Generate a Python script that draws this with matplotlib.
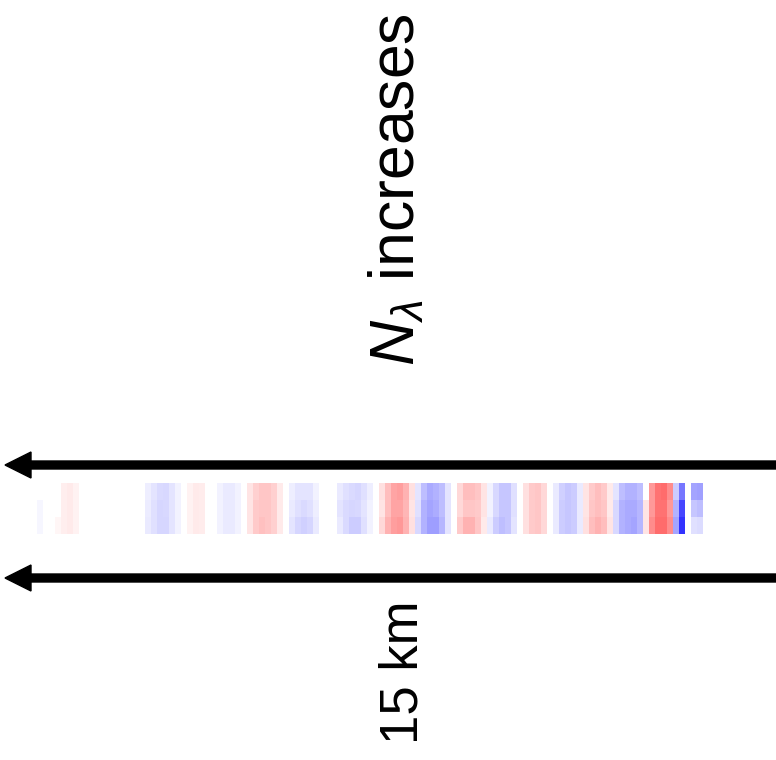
import matplotlib
matplotlib.use('Agg')
import matplotlib.pyplot as plt
import numpy as np

plt.rcParams['font.family'] = ['Liberation Sans', 'DejaVu Sans']
plt.rcParams['mathtext.fontset'] = 'custom'
plt.rcParams['mathtext.rm'] = 'Liberation Sans'
plt.rcParams['mathtext.it'] = 'Liberation Sans:italic'

# anomaly values along the strip (3 rows, 111 columns)
row1 = [0, 0, 0, 0, 0.06, 0.08, 0.05, 0, 0, 0,
        0, 0, 0, 0, 0, 0, 0, 0, -0.06, -0.1,
        -0.14, -0.15, -0.1, -0.05, 0, 0.05, 0.08, 0.07, 0, 0,
        -0.05, -0.08, -0.08, -0.05, 0, 0.1, 0.18, 0.22, 0.22, 0.18,
        0.08, 0, -0.06, -0.1, -0.1, -0.1, -0.05, 0, 0, 0,
        -0.08, -0.12, -0.14, -0.16, -0.12, -0.06, 0, 0.12, 0.25, 0.35,
        0.38, 0.3, 0.12, -0.1, -0.25, -0.33, -0.3, -0.25, -0.1, 0,
        0.15, 0.25, 0.25, 0.22, 0.1, -0.05, -0.15, -0.22, -0.22, -0.12,
        0, 0.12, 0.2, 0.22, 0.15, 0, -0.08, -0.18, -0.22, -0.2,
        -0.08, 0.1, 0.2, 0.25, 0.2, 0.08, -0.1, -0.25, -0.3, -0.3,
        -0.25, 0, 0.4, 0.55, 0.57, 0.45, -0.2, -0.53, 0, -0.35,
        -0.37]
row2 = [-0.03, 0, 0, 0, 0.06, 0.08, 0.05, 0, 0, 0,
        0, 0, 0, 0, 0, 0, 0, 0, -0.07, -0.12,
        -0.16, -0.15, -0.1, -0.05, 0, 0.05, 0.08, 0.07, 0, 0,
        -0.05, -0.08, -0.08, -0.05, 0, 0.1, 0.2, 0.22, 0.22, 0.18,
        0.08, 0, -0.08, -0.12, -0.14, -0.12, -0.06, 0, 0, 0,
        -0.1, -0.14, -0.16, -0.15, -0.1, -0.05, 0, 0.1, 0.25, 0.35,
        0.35, 0.28, 0.1, -0.12, -0.3, -0.35, -0.32, -0.25, -0.1, 0,
        0.15, 0.22, 0.22, 0.2, 0.1, -0.05, -0.15, -0.22, -0.22, -0.12,
        0, 0.12, 0.2, 0.22, 0.15, 0, -0.08, -0.2, -0.22, -0.2,
        -0.08, 0.1, 0.22, 0.25, 0.22, 0.08, -0.15, -0.3, -0.33, -0.33,
        -0.28, 0.1, 0.4, 0.55, 0.55, 0.4, -0.3, -0.72, 0, -0.22,
        -0.25]
row3 = [-0.03, 0, 0, 0.03, 0.06, 0.08, 0.05, 0, 0, 0,
        0, 0, 0, 0, 0, 0, 0, 0, -0.08, -0.12,
        -0.16, -0.16, -0.1, -0.05, 0, 0.05, 0.08, 0.07, 0, 0,
        -0.05, -0.08, -0.08, -0.05, 0, 0.1, 0.2, 0.24, 0.22, 0.18,
        0.08, 0, -0.1, -0.16, -0.18, -0.16, -0.08, 0, 0, 0,
        -0.08, -0.14, -0.2, -0.2, -0.12, -0.05, 0, 0.15, 0.3, 0.38,
        0.4, 0.3, 0.12, -0.15, -0.3, -0.38, -0.38, -0.28, -0.1, 0,
        0.2, 0.3, 0.3, 0.22, 0.08, -0.08, -0.2, -0.25, -0.22, -0.1,
        0, 0.12, 0.2, 0.22, 0.15, 0, -0.08, -0.2, -0.22, -0.2,
        -0.08, 0.12, 0.25, 0.3, 0.25, 0.1, -0.15, -0.3, -0.33, -0.35,
        -0.28, 0.1, 0.45, 0.57, 0.57, 0.45, -0.35, -0.8, 0, -0.12,
        -0.13]
title_text = r'$N_\lambda$ increases'
scale_text = '15 km'

fig = plt.figure(figsize=(7.76, 7.6), dpi=100)
ax = fig.add_axes([0, 0, 1, 1])
ax.set_xlim(0, 776)
ax.set_ylim(760, 0)
ax.axis('off')

# odd number of levels so that zero is pure white
cmap = plt.get_cmap('bwr', 255)
grid = np.array([row1, row2, row3])
ax.imshow(grid, cmap=cmap, vmin=-1, vmax=1, interpolation='nearest',
          extent=(37, 703, 534, 483), aspect='auto')

# the two arrows above and below the strip
for y in (465, 578):
    ax.arrow(776, y, -771, 0, width=8, head_width=26, head_length=26,
             length_includes_head=True, color='black')

ax.text(397, 366, title_text, rotation=90, ha='center', va='bottom', fontsize=45)
ax.text(403, 744, scale_text, rotation=90, ha='center', va='bottom', fontsize=38)

fig.savefig('out.png', dpi=100)
